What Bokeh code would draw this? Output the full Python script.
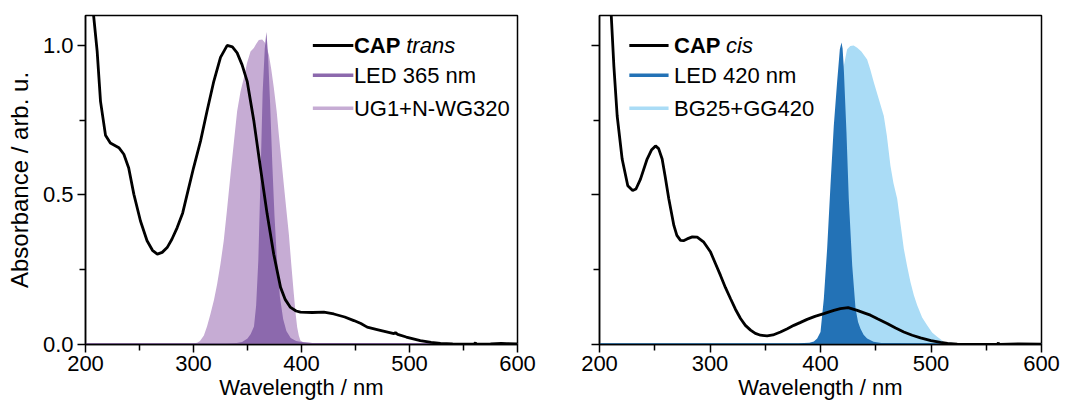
from bokeh.plotting import figure
from bokeh.models import FixedTicker, BoxAnnotation, Label, Range1d, NumeralTickFormatter, CustomJSTickFormatter
from bokeh.layouts import row
from bokeh.embed import file_html
from bokeh.resources import INLINE

# ---------------- data ----------------
trans_nm = [200, 203, 205.5, 207.5, 210.8, 213.9, 218.5, 223, 230.9, 235.5, 240, 244.8, 250.9, 257, 262,
            266.5, 271, 275.6, 280, 284.9, 290, 294.1, 300, 306.5, 312.5, 318.8, 325, 331.2, 336, 340.4,
            345, 349.7, 355.9, 362, 368.2, 374.3, 380.6, 385, 389.8, 395, 399, 410, 420.7, 429.9, 440,
            448.5, 455, 460.8, 470, 485.5, 487, 489, 497, 510, 520, 528.7, 540, 550, 560, 561, 562, 575,
            585, 590, 600]
trans_abs = [2.5, 1.8, 1.35, 1.1, 0.98, 0.813, 0.70, 0.674, 0.658, 0.636, 0.59, 0.502, 0.413, 0.347, 0.315,
             0.302, 0.308, 0.324, 0.352, 0.391, 0.44, 0.502, 0.59, 0.68, 0.78, 0.88, 0.96, 1.0, 0.995, 0.975,
             0.935, 0.88, 0.747, 0.59, 0.436, 0.302, 0.191, 0.15, 0.124, 0.112, 0.108, 0.107, 0.108, 0.102, 0.092,
             0.08, 0.07, 0.058, 0.05, 0.036, 0.04, 0.034, 0.025, 0.013, 0.007, 0.004, 0.002, 0.001, 0.002, 0.006,
             0.001, 0.002, 0.004, 0.003, 0.002]

led365_nm = [200, 330, 340, 345, 350, 353, 356, 358, 360, 362, 364, 366, 367.5, 369, 371, 373, 375, 377,
             380, 383, 386, 390, 395, 400, 410, 600]
led365_val = [0.004, 0.004, 0.005, 0.008, 0.02, 0.035, 0.06, 0.13, 0.28, 0.55, 0.84, 0.99, 1.045, 0.97,
              0.8, 0.6, 0.43, 0.3, 0.16, 0.085, 0.045, 0.022, 0.012, 0.008, 0.005, 0.004]

ug1_nm = [200, 300, 303.4, 306, 309.6, 312.5, 315.7, 319, 321.9, 325, 328, 331, 334.3, 337.5, 340.4, 343.5,
          346.6, 349.5, 352.8, 355.9, 358, 360.5, 363.6, 366, 368, 369.8, 372, 374.4, 377, 379, 381.3, 383.6,
          386, 388.3, 390.5, 392.9, 394.5, 396, 397.5, 399, 402, 410, 600]
ug1_val = [0.004, 0.004, 0.006, 0.012, 0.03, 0.06, 0.102, 0.15, 0.202, 0.27, 0.347, 0.45, 0.569, 0.68, 0.78,
           0.845, 0.891, 0.94, 0.98, 0.991, 1.005, 1.018, 1.02, 1.01, 0.99, 0.969, 0.92, 0.858, 0.78, 0.702,
           0.62, 0.536, 0.45, 0.369, 0.27, 0.169, 0.105, 0.058, 0.03, 0.013, 0.007, 0.005, 0.004]

cis_nm = [200, 204, 207, 210.6, 213, 216, 220.5, 225.6, 230, 233, 237.1, 243.1, 247, 250.7, 253.5, 256.7,
          259.5, 262.7, 267.3, 270, 273.3, 276, 279.3, 284, 288.4, 294.4, 300.5, 305, 309.5, 314, 318.6, 323,
          327.6, 332, 336.7, 341, 345.7, 351.7, 357, 363.8, 370, 375.9, 382, 387.9, 395, 403, 412.1, 418, 425,
          433.2, 440, 445.2, 452, 460.3, 468, 475.4, 483, 490.5, 500, 508.6, 515, 523.7, 540, 560, 561, 562,
          580, 600]
cis_abs = [2.5, 1.8, 1.45, 1.103, 0.931, 0.764, 0.62, 0.531, 0.515, 0.52, 0.553, 0.62, 0.65, 0.664, 0.655,
           0.62, 0.56, 0.487, 0.398, 0.365, 0.348, 0.347, 0.353, 0.36, 0.359, 0.342, 0.309, 0.27, 0.231, 0.19,
           0.153, 0.118, 0.087, 0.064, 0.048, 0.037, 0.031, 0.029, 0.032, 0.042, 0.053, 0.064, 0.074, 0.084,
           0.094, 0.103, 0.114, 0.12, 0.123, 0.114, 0.105, 0.098, 0.085, 0.07, 0.055, 0.042, 0.031, 0.022,
           0.013, 0.007, 0.004, 0.001, 0.0, 0.001, 0.005, 0.0, 0.002, 0.001]

led420_nm = [200, 380, 390, 394, 397, 400, 403, 406, 409, 412, 415, 417.5, 419, 420, 421, 423.5, 425.6,
             428.7, 431.7, 434, 436.2, 439, 442.2, 448, 455, 600]
led420_val = [0.004, 0.004, 0.006, 0.01, 0.02, 0.042, 0.153, 0.32, 0.53, 0.73, 0.876, 0.987, 1.01, 0.99,
              0.93, 0.71, 0.487, 0.264, 0.12, 0.075, 0.053, 0.033, 0.02, 0.009, 0.005, 0.004]

bg25_nm = [200, 395, 400, 405, 410, 414, 418, 421, 424.1, 427, 430, 433.2, 437, 442.2, 445, 448.3, 452,
           457.3, 460, 463.3, 466, 469.4, 472.5, 475.4, 478.5, 481.4, 484.5, 487.5, 492, 496.5, 501, 505.6,
           511.6, 520.7, 600]
bg25_val = [0.004, 0.004, 0.01, 0.04, 0.17, 0.45, 0.78, 0.93, 0.987, 0.998, 1.0, 0.992, 0.98, 0.953, 0.92,
            0.876, 0.83, 0.764, 0.7, 0.598, 0.54, 0.487, 0.4, 0.32, 0.26, 0.209, 0.165, 0.131, 0.09, 0.064,
            0.04, 0.026, 0.009, 0.005, 0.004]

x_ticks = [200, 300, 400, 500, 600]
x_minor = [250, 350, 450, 550]
y_ticks = [0.0, 0.5, 1.0]
y_minor = [0.25, 0.75]

# ---------------- styles ----------------
FONT = "Liberation Sans"
TICK_SIZE = "22px"
LAB_SIZE = "22px"
YLAB_SIZE = "24px"
C_LED365 = "#8c69ad"
C_UG1 = "#c6acd4"
C_LED420 = "#2372b6"
C_BG25 = "#aadcf6"


def make_fig(width, b_left, b_right, b_top, b_bottom, ylabels):
    p = figure(width=width, height=405, x_range=Range1d(200, 600), y_range=Range1d(0, 1.1),
               output_backend="svg", toolbar_location=None,
               min_border_left=b_left, min_border_right=b_right,
               min_border_top=b_top, min_border_bottom=b_bottom)
    p.grid.visible = False
    p.outline_line_color = "black"
    p.outline_line_width = 1.5
    p.background_fill_color = "white"
    p.border_fill_color = "white"
    for ax in (p.xaxis[0], p.yaxis[0]):
        ax.axis_line_width = 1.5
        ax.major_tick_line_width = 1.5
        ax.minor_tick_line_width = 1.5
        ax.major_tick_in = 0
        ax.major_tick_out = 8
        ax.minor_tick_in = 0
        ax.minor_tick_out = 6
        ax.major_label_text_font = FONT
        ax.major_label_text_font_size = TICK_SIZE
        ax.major_label_text_color = "black"
        ax.axis_label_text_font = FONT
        ax.axis_label_text_font_size = LAB_SIZE
        ax.axis_label_text_font_style = "normal"
        ax.axis_label_text_color = "black"
    p.xaxis.major_label_standoff = 3
    p.yaxis.major_label_standoff = 4
    p.xaxis.ticker = FixedTicker(ticks=x_ticks, minor_ticks=x_minor)
    p.yaxis.ticker = FixedTicker(ticks=y_ticks, minor_ticks=y_minor)
    p.xaxis.axis_label = "Wavelength / nm"
    p.xaxis.axis_label_standoff = 1
    if ylabels:
        p.yaxis.formatter = NumeralTickFormatter(format="0.0")
        p.yaxis.axis_label = "Absorbance / arb. u."
        p.yaxis.axis_label_text_font_size = YLAB_SIZE
        p.yaxis.axis_label_standoff = 7
    else:
        p.yaxis.formatter = CustomJSTickFormatter(code="return ''")
    return p


def legend(p, x0, x1, tx, rows):
    for (y, color, thick, parts) in rows:
        p.add_layout(BoxAnnotation(left=x0, right=x1, bottom=y - thick, top=y + thick,
                                   fill_color=color, fill_alpha=1.0, line_color=None))
        for (txt, style, dx) in parts:
            p.add_layout(Label(x=tx + dx, y=y, text=txt, text_align="left", text_baseline="middle",
                               text_font=FONT, text_font_size=LAB_SIZE, text_font_style=style,
                               text_color="black"))


# ---------------- left: trans ----------------
p1 = make_fig(540, 85, 23, 14, 61, True)
p1.varea(x=ug1_nm, y1=0, y2=ug1_val, fill_color=C_UG1)
p1.varea(x=led365_nm, y1=0, y2=led365_val, fill_color=C_LED365)
p1.line(x=trans_nm, y=trans_abs, line_color="black", line_width=2.8)
legend(p1, 410.5, 448, 448.5, [
    (1.0, "black", 0.005, [("CAP", "bold", 0), ("trans", "italic", 48.5)]),
    (0.9, C_LED365, 0.006, [("LED 365 nm", "normal", 0)]),
    (0.79, C_UG1, 0.006, [("UG1+N-WG320", "normal", 0)]),
])

# ---------------- right: cis ----------------
p2 = make_fig(528, 59, 27, 15, 60, False)
p2.varea(x=bg25_nm, y1=0, y2=bg25_val, fill_color=C_BG25)
p2.varea(x=led420_nm, y1=0, y2=led420_val, fill_color=C_LED420)
p2.line(x=cis_nm, y=cis_abs, line_color="black", line_width=2.8)
legend(p2, 227, 262.5, 267.5, [
    (1.0, "black", 0.005, [("CAP", "bold", 0), ("cis", "italic", 47)]),
    (0.9, C_LED420, 0.006, [("LED 420 nm", "normal", 0)]),
    (0.79, C_BG25, 0.006, [("BG25+GG420", "normal", 0)]),
])

layout = row(p1, p2)
open("out.html", "w").write(file_html(layout, INLINE))
